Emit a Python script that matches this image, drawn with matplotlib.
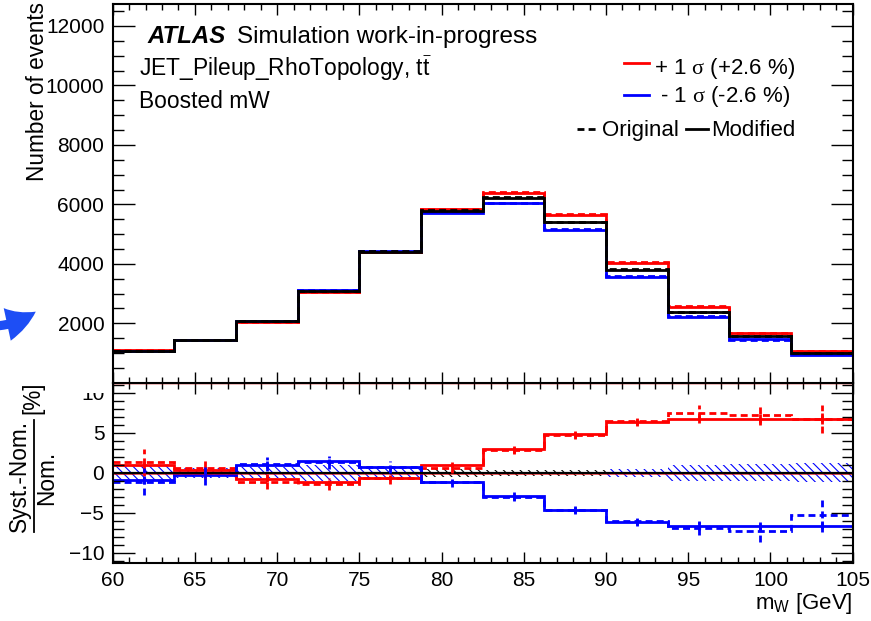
import numpy as np
import matplotlib.pyplot as plt
from matplotlib.ticker import MultipleLocator
from matplotlib.lines import Line2D
from matplotlib.patches import Rectangle, FancyArrowPatch

plt.rcParams['font.family'] = ['Liberation Sans', 'DejaVu Sans']
plt.rcParams['mathtext.fontset'] = 'custom'
plt.rcParams['mathtext.rm'] = 'Liberation Serif'
plt.rcParams['mathtext.sf'] = 'Liberation Sans'
plt.rcParams['mathtext.it'] = 'Liberation Sans:italic'
plt.rcParams['hatch.linewidth'] = 0.8

# m_W binning
bin_edges = [60, 63.75, 67.5, 71.25, 75, 78.75, 82.5, 86.25, 90, 93.75, 97.5, 101.25, 105]

# nominal yields (modified / original)
nominal_mod = [1080, 1430, 2060, 3090, 4410, 5790, 6210, 5390, 3800, 2380, 1560, 1000]
nominal_orig = [1082, 1433, 2063, 3094, 4416, 5800, 6245, 5420, 3825, 2395, 1568, 1004]

# relative shifts (Syst.-Nom.)/Nom. in %
up_mod = [0.9, 0.3, -0.8, -1.2, -0.6, 1.0, 2.9, 4.8, 6.3, 6.75, 6.75, 6.75]
up_orig = [1.3, 0.6, -1.1, -1.4, -0.7, 0.55, 2.8, 4.7, 6.5, 7.5, 7.2, 6.7]
down_mod = [-0.9, -0.3, 1.0, 1.4, 0.65, -1.1, -2.9, -4.6, -6.2, -6.7, -6.7, -6.7]
down_orig = [-1.1, -0.2, 1.1, 1.3, 0.7, -1.2, -3.0, -4.7, -6.0, -6.9, -7.3, -5.25]

# stat. uncertainties on the ratio (%)
err_mod = [0.5, 0.4, 0.4, 0.35, 0.35, 0.3, 0.45, 0.45, 0.45, 0.5, 0.6, 0.7]
err_orig = [1.7, 1.35, 0.9, 0.8, 0.7, 0.55, 0.5, 0.5, 0.5, 0.9, 1.3, 1.8]
band_blue = [1.0, 0.6, 0.7, 1.0, 0.6, 0, 0, 0, 0.5, 1.0, 1.05, 1.15]
band_black = [0, 0, 0, 0, 0, 0.5, 0.35, 0.35, 0, 0, 0, 0]

edges = np.array(bin_edges)
centers = 0.5 * (edges[:-1] + edges[1:])
nom_m = np.array(nominal_mod)
nom_o = np.array(nominal_orig)
r_um, r_uo = np.array(up_mod), np.array(up_orig)
r_dm, r_do = np.array(down_mod), np.array(down_orig)

W, H = 871, 621
fig = plt.figure(figsize=(W / 100, H / 100), dpi=100)

def fx(x):
    return x / W

def fy(y):
    return 1 - y / H

left, right = 112.7, 852.7
ax_top = fig.add_axes([fx(left), fy(382.7), fx(right - left), fy(4) - fy(382.7)])
ax_bot = fig.add_axes([fx(left), fy(562.7), fx(right - left), fy(382.7) - fy(562.7)])
ax_bot.set_zorder(1)
ax_top.set_zorder(3)

dash = (0, (2.5, 1.5))
lw = 2.0

# upper panel: yields
for col, r_m, r_o in [('red', r_um, r_uo), ('blue', r_dm, r_do)]:
    ax_top.stairs(nom_o * (1 + r_o / 100), edges, baseline=None, color=col, lw=lw, ls=dash)
    ax_top.stairs(nom_m * (1 + r_m / 100), edges, baseline=None, color=col, lw=lw)
ax_top.stairs(nom_o, edges, baseline=None, color='black', lw=lw, ls=dash)
ax_top.stairs(nom_m, edges, baseline=None, color='black', lw=lw)

ax_top.set_xlim(60, 105)
ax_top.set_ylim(1, 12740)
ax_top.yaxis.set_major_locator(MultipleLocator(2000))
ax_top.yaxis.set_minor_locator(MultipleLocator(500))
ax_top.xaxis.set_major_locator(MultipleLocator(5))
ax_top.xaxis.set_minor_locator(MultipleLocator(1))
ax_top.tick_params(labelbottom=False)

# lower panel: ratios
def band(ax, half, color):
    h = np.append(half, half[-1])
    ax.fill_between(edges, -h, h, step='post', facecolor='none', edgecolor=color,
                    linewidth=0, hatch='\\\\\\\\')

band(ax_bot, np.array(band_blue), 'blue')
band(ax_bot, np.array(band_black), 'black')
ax_bot.axhline(-0.18, color='red', lw=0.6, alpha=0.7)
ax_bot.axhline(0, color='black', lw=1.6)
ax_bot.axhline(11.1, color='red', lw=0.5, alpha=0.3)

for col, r_m, r_o in [('red', r_um, r_uo), ('blue', r_dm, r_do)]:
    ax_bot.stairs(r_o, edges, baseline=None, color=col, lw=lw, ls=dash)
    ax_bot.vlines(centers, r_o - np.array(err_orig), r_o + np.array(err_orig),
                  colors=col, lw=lw, linestyles=dash)
    ax_bot.stairs(r_m, edges, baseline=None, color=col, lw=lw)
    ax_bot.vlines(centers, r_m - np.array(err_mod), r_m + np.array(err_mod),
                  colors=col, lw=lw)

ax_bot.set_xlim(60, 105)
ax_bot.set_ylim(-11.23, 11.23)
ax_bot.yaxis.set_major_locator(MultipleLocator(5))
ax_bot.yaxis.set_minor_locator(MultipleLocator(1))
ax_bot.xaxis.set_major_locator(MultipleLocator(5))
ax_bot.xaxis.set_minor_locator(MultipleLocator(1))

for ax in (ax_top, ax_bot):
    ax.tick_params(which='both', direction='in', top=True, right=True, width=1,
                   labelsize=15, pad=6)
    ax.tick_params(axis='y', which='major', length=16)
    ax.tick_params(axis='y', which='minor', length=8)
    ax.tick_params(axis='x', which='major', length=8)
    ax.tick_params(axis='x', which='minor', length=4)
    for sp in ax.spines.values():
        sp.set_linewidth(1.5)

# upper pad edge hides the top of the "10" label
fig.add_artist(Rectangle((0, fy(393)), fx(left) - 0.004, 20 / H, transform=fig.transFigure,
                         facecolor='white', edgecolor='none', zorder=2))

# axis titles
fig.text(fx(37), fy(2), 'Number of events', rotation=90, ha='center', va='top', size=16.3)
# (Syst.-Nom.)/Nom. [%] written as a stacked fraction
fig.text(fx(19), fy(476), 'Syst.-Nom.', rotation=90, ha='center', va='center', size=16.3)
fig.text(fx(47), fy(478), 'Nom.', rotation=90, ha='center', va='center', size=16.3)
fig.add_artist(Line2D([fx(33.5), fx(33.5)], [fy(420), fy(532)], color='black', lw=1.3))
fig.text(fx(33), fy(398), '[%]', rotation=90, ha='center', va='center', size=16.3)
fig.text(fx(right), fy(609), r'm$_{\mathsf{W}}$ [GeV]', ha='right', va='baseline', size=16)

fig.text(fx(147), fy(43), 'ATLAS', weight='bold', style='italic', size=17.3, va='baseline')
fig.text(fx(237), fy(43), 'Simulation work-in-progress', size=17.5, va='baseline')
fig.text(fx(139), fy(76), r'JET_Pileup_RhoTopology, $\mathsf{t}\bar{\mathsf{t}}$', size=16.4,
         va='baseline')
fig.text(fx(139), fy(108), 'Boosted mW', size=16.4, va='baseline')

# legend
fig.add_artist(Line2D([fx(624), fx(649)], [fy(62.5), fy(62.5)], color='red', lw=lw, zorder=5))
fig.text(fx(654), fy(74), r'+ 1 $\mathrm{\sigma}$ (+2.6 %)', size=16, va='baseline', zorder=5)
fig.add_artist(Line2D([fx(624), fx(649)], [fy(95), fy(95)], color='blue', lw=lw, zorder=5))
fig.text(fx(654), fy(102), r' - 1 $\mathrm{\sigma}$ (-2.6 %)', size=16, va='baseline', zorder=5)
fig.add_artist(Line2D([fx(577), fx(599)], [fy(128.5), fy(128.5)], color='black', lw=lw,
                      ls=dash, zorder=5))
fig.text(fx(602), fy(136), 'Original', size=16, va='baseline', zorder=5)
fig.add_artist(Line2D([fx(686), fx(708)], [fy(128.5), fy(128.5)], color='black', lw=lw,
                      zorder=5))
fig.text(fx(711), fy(136), 'Modified', size=16, va='baseline', zorder=5)

# stray arrow at the left edge
fig.add_artist(FancyArrowPatch((fx(-4), fy(326)), (fx(38), fy(310)), transform=fig.transFigure,
                               arrowstyle='simple,head_length=0.75,head_width=0.8,tail_width=0.22',
                               mutation_scale=30, connectionstyle='arc3,rad=0.15',
                               color='#1d4ef5', lw=0, zorder=4))

fig.savefig('out.png', dpi=100)
